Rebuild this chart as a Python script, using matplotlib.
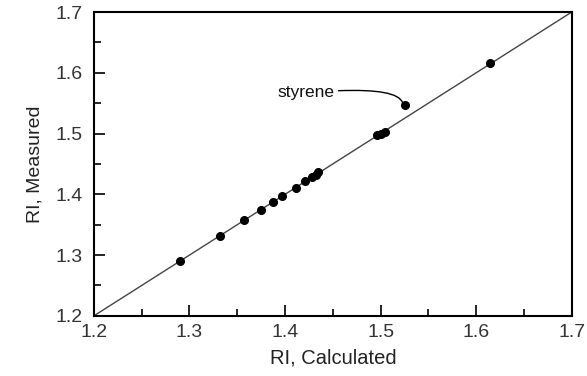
import matplotlib
matplotlib.use("Agg")
import matplotlib.pyplot as plt
from matplotlib.ticker import MultipleLocator

plt.rcParams['font.family'] = ['Liberation Sans', 'DejaVu Sans']

ri_calc = [1.290, 1.332, 1.357, 1.375, 1.387, 1.397, 1.411, 1.421, 1.428, 1.432, 1.435,
           1.496, 1.500, 1.505, 1.525, 1.614]
ri_meas = [1.290, 1.332, 1.358, 1.374, 1.387, 1.397, 1.410, 1.422, 1.428, 1.431, 1.436,
           1.497, 1.500, 1.503, 1.547, 1.616]
ref_line = [1.2, 1.7]
ticks = [1.2, 1.3, 1.4, 1.5, 1.6, 1.7]
tick_labels = ['1.2', '1.3', '1.4', '1.5', '1.6', '1.7']

fig = plt.figure(figsize=(5.87, 3.76), dpi=100)
ax = fig.add_axes([0.160, 0.160, 0.814, 0.808])

ax.plot(ref_line, ref_line, color='#444444', lw=1.0, zorder=1)
ax.plot(ri_calc, ri_meas, 'o', color='black', ms=5.5, zorder=2)

ax.annotate('styrene', xy=(1.523, 1.551), xytext=(1.392, 1.567),
            fontsize=12.5, color='#111111', va='center', ha='left',
            arrowprops=dict(arrowstyle='-', color='black', lw=1.0,
                            connectionstyle='angle3,angleA=5,angleB=-70',
                            shrinkA=1, shrinkB=0))

ax.set_xlim(1.2, 1.7)
ax.set_ylim(1.2, 1.7)
ax.set_xticks(ticks)
ax.set_xticklabels(tick_labels)
ax.set_yticks(ticks)
ax.set_yticklabels(tick_labels)
ax.xaxis.set_minor_locator(MultipleLocator(0.05))
ax.yaxis.set_minor_locator(MultipleLocator(0.05))
ax.tick_params(which='major', direction='in', length=8, width=1.2,
               labelsize=14, labelcolor='#333333')
ax.tick_params(axis='x', which='major', pad=6)
ax.tick_params(axis='y', which='major', pad=8)
ax.tick_params(which='minor', direction='in', length=5, width=1.2)
for s in ax.spines.values():
    s.set_linewidth(1.5)

ax.set_xlabel('RI, Calculated', fontsize=14.5, color='#222222', labelpad=5)
ax.set_ylabel('RI, Measured', fontsize=14, color='#222222', labelpad=9)

fig.savefig('out.png', dpi=100)
